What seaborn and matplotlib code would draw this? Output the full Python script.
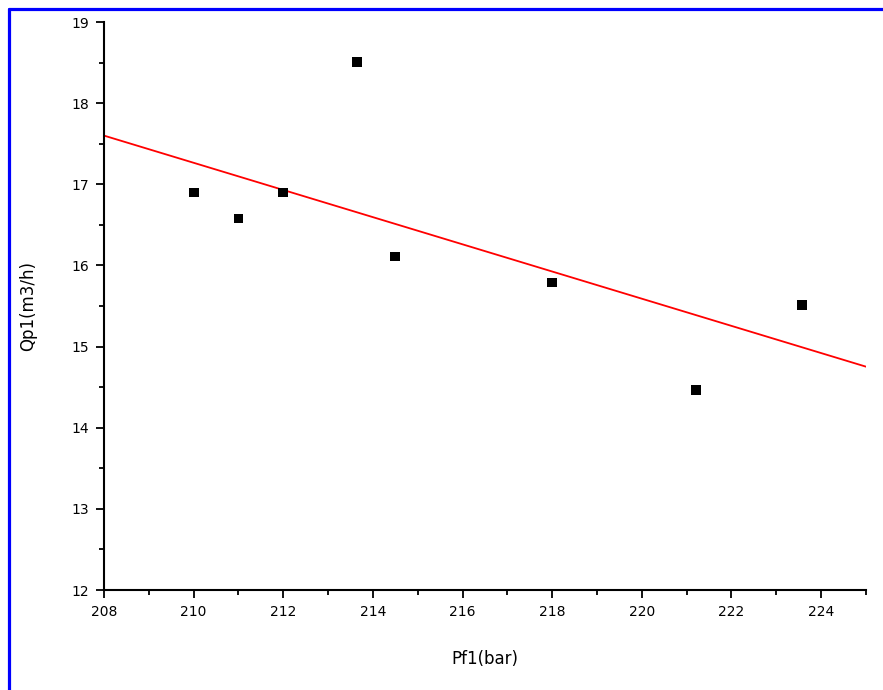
import matplotlib
matplotlib.use("Agg")
import matplotlib.pyplot as plt
import seaborn as sns
import pandas as pd
from matplotlib.lines import Line2D
from matplotlib.ticker import MultipleLocator

pf1 = [210.0, 211.0, 212.0, 213.64, 214.5, 218.0, 221.2, 223.57]
qp1 = [16.90, 16.58, 16.90, 18.51, 16.11, 15.79, 14.47, 15.51]
x_ticks = [208, 210, 212, 214, 216, 218, 220, 222, 224]
y_ticks = [12, 13, 14, 15, 16, 17, 18, 19]

df = pd.DataFrame({"Pf1(bar)": pf1, "Qp1(m3/h)": qp1})

sns.set_style("ticks")
plt.rcParams["font.family"] = ["DejaVu Sans"]
plt.rcParams["text.color"] = "black"
plt.rcParams["axes.labelcolor"] = "black"

fig = plt.figure(figsize=(8.83, 6.90), dpi=100)
ax = fig.add_axes([0.1178, 0.1449, 0.8629, 0.8231])
ax.set_xlim(208, 225)
ax.set_ylim(12, 19)

sns.regplot(data=df, x="Pf1(bar)", y="Qp1(m3/h)", ax=ax, ci=None, truncate=False,
            marker="s", color="black",
            scatter_kws=dict(s=50, color="black", edgecolors="none", alpha=1, zorder=3),
            line_kws=dict(color="red", lw=1.3, zorder=2))
ax.set_xlim(208, 225)
ax.set_ylim(12, 19)

ax.set_xticks(x_ticks)
ax.set_yticks(y_ticks)
ax.xaxis.set_minor_locator(MultipleLocator(1))
ax.yaxis.set_minor_locator(MultipleLocator(0.5))
ax.tick_params(axis="both", which="major", length=6, width=1.3, direction="out",
               labelsize=10, color="black", labelcolor="black", pad=5)
ax.tick_params(axis="both", which="minor", length=3.5, width=1.3, direction="out", color="black")
for s in ["top", "right"]:
    ax.spines[s].set_visible(False)
for s in ["left", "bottom"]:
    ax.spines[s].set_linewidth(1.5)
    ax.spines[s].set_color("black")

ax.set_xlabel("Pf1(bar)", fontsize=12, labelpad=22, color="black")
ax.set_ylabel("Qp1(m3/h)", fontsize=12, labelpad=38, color="black")
ax.yaxis.set_label_coords(-0.088, 0.5)

fig.add_artist(Line2D([0.0102, 0.0102], [0.0, 0.987], transform=fig.transFigure,
                      color="#0000ff", lw=2.3))
fig.add_artist(Line2D([0.0102, 1.0], [0.987, 0.987], transform=fig.transFigure,
                      color="#0000ff", lw=2.3))

fig.savefig("out.png", dpi=100, facecolor="white")
